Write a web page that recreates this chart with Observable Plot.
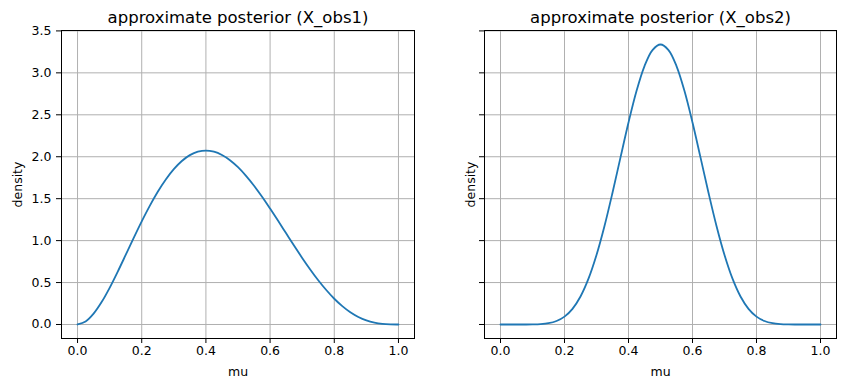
<!DOCTYPE html>
<html>
<head>
<meta charset="utf-8">
<script src="https://cdn.jsdelivr.net/npm/d3@7"></script>
<script src="https://cdn.jsdelivr.net/npm/@observablehq/plot@0.6"></script>
<style>
  html, body { margin: 0; padding: 0; background: #fff; }
  #wrap { position: relative; width: 846px; height: 391px; background: #fff; }
</style>
</head>
<body>
<div id="wrap"></div>
<script>
// ---- data ----
const mu = [0, 0.025, 0.05, 0.075, 0.1, 0.125, 0.15, 0.175, 0.2, 0.225, 0.25, 0.275, 0.3, 0.325, 0.35, 0.375, 0.4, 0.425, 0.45, 0.475, 0.5,
            0.525, 0.55, 0.575, 0.6, 0.625, 0.65, 0.675, 0.7, 0.725, 0.75, 0.775, 0.8, 0.825, 0.85, 0.875, 0.9, 0.925, 0.95, 0.975, 1];
const densityObs1 = [0, 0.035, 0.129, 0.267, 0.437, 0.628, 0.829, 1.032, 1.229, 1.414, 1.582, 1.729, 1.852, 1.949, 2.019, 2.060, 2.074, 2.060, 2.021, 1.959, 1.875,
                     1.772, 1.654, 1.523, 1.382, 1.236, 1.087, 0.938, 0.794, 0.656, 0.527, 0.411, 0.307, 0.219, 0.146, 0.090, 0.049, 0.022, 0.007, 0.001, 0];
const densityObs2 = [0, 0, 0, 0.0001, 0.0009, 0.0045, 0.0153, 0.0413, 0.094, 0.187, 0.334, 0.546, 0.828, 1.174, 1.570, 1.992, 2.408, 2.783, 3.081, 3.272, 3.338,
                     3.272, 3.081, 2.783, 2.408, 1.992, 1.570, 1.174, 0.828, 0.546, 0.334, 0.187, 0.094, 0.0413, 0.0153, 0.0045, 0.0009, 0.0001, 0, 0, 0];
const titles = ["approximate posterior (X_obs1)", "approximate posterior (X_obs2)"];
const xLabel = "mu";
const yLabel = "density";
const xTicks = [0, 0.2, 0.4, 0.6, 0.8, 1.0];
const yTicks = [0, 0.5, 1.0, 1.5, 2.0, 2.5, 3.0, 3.5];

const series = [densityObs1, densityObs2];
const panels = [
  {left: 0, width: 430, marginLeft: 61, marginRight: 16, showY: true, ylabDx: -44},
  {left: 420, width: 426, marginLeft: 64, marginRight: 10, showY: false, ylabDx: -14}
];

const wrap = document.getElementById("wrap");
panels.forEach((p, i) => {
  const data = mu.map((m, j) => ({mu: m, d: series[i][j]}));
  const chart = Plot.plot({
    width: p.width,
    height: 391,
    marginLeft: p.marginLeft,
    marginRight: p.marginRight,
    marginTop: 30,
    marginBottom: 53,
    style: {fontFamily: "DejaVu Sans", fontSize: "12.5px", color: "black", background: "transparent", overflow: "visible"},
    x: {domain: [-0.05, 1.05]},
    y: {domain: [-0.167, 3.505]},
    marks: [
      Plot.gridX(xTicks, {stroke: "#b0b0b0", strokeOpacity: 1, strokeWidth: 1}),
      Plot.gridY(yTicks, {stroke: "#b0b0b0", strokeOpacity: 1, strokeWidth: 1}),
      Plot.line(data, {x: "mu", y: "d", stroke: "#1f77b4", strokeWidth: 1.8, curve: "catmull-rom"}),
      Plot.frame({stroke: "black", strokeWidth: 1}),
      Plot.axisX(xTicks, {tickSize: 5, tickPadding: 3, tickFormat: d3.format(".1f"), label: null, stroke: "black", fontSize: 12.5}),
      Plot.axisY(yTicks, {tickSize: 5, tickPadding: 5, tickFormat: p.showY ? d3.format(".1f") : () => "", label: null, stroke: "black", fontSize: 12.5}),
      Plot.text([titles[i]], {frameAnchor: "top", lineAnchor: "middle", dy: -13, fontSize: 16.5, fill: "black"}),
      Plot.text([xLabel], {frameAnchor: "bottom", lineAnchor: "middle", dy: 33, fontSize: 12.5, fill: "black"}),
      Plot.text([yLabel], {frameAnchor: "left", textAnchor: "middle", lineAnchor: "middle", dx: p.ylabDx, rotate: -90, fontSize: 12.5, fill: "black"})
    ]
  });
  chart.style.left = p.left + "px";
  chart.style.position = "absolute";
  chart.style.top = "0px";
  wrap.appendChild(chart);
});
</script>
</body>
</html>
